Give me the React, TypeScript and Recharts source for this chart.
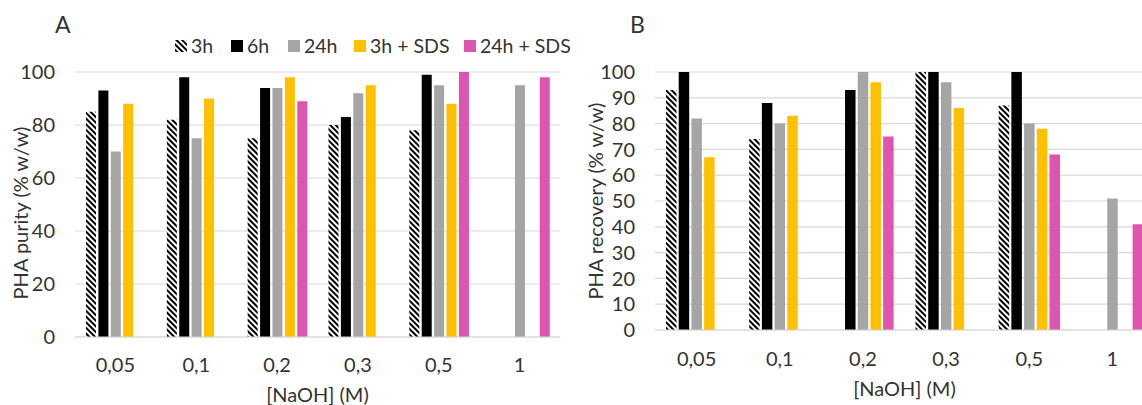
import { BarChart, Bar, XAxis, YAxis, CartesianGrid, Legend } from 'recharts';

const FONT = 'Lato, "Open Sans", sans-serif';
const TEXT = '#333333';
const GRID = '#D9D9D9';
const FS = 20;

const categories = ['0,05', '0,1', '0,2', '0,3', '0,5', '1'];

// Panel A - PHA purity (% w/w)
const purity3h = [85, 82, 75, 80, 78, null];
const purity6h = [93, 98, 94, 83, 99, null];
const purity24h = [70, 75, 94, 92, 95, 95];
const purity3hSds = [88, 90, 98, 95, 88, null];
const purity24hSds = [null, null, 89, null, 100, 98];
const purityTicks = [0, 20, 40, 60, 80, 100];

// Panel B - PHA recovery (% w/w)
const recovery3h = [93, 74, null, 100, 87, null];
const recovery6h = [100, 88, 93, 100, 100, null];
const recovery24h = [82, 80, 100, 96, 80, 51];
const recovery3hSds = [67, 83, 96, 86, 78, null];
const recovery24hSds = [null, null, 75, null, 68, 41];
const recoveryTicks = [0, 10, 20, 30, 40, 50, 60, 70, 80, 90, 100];

const series = [
  { key: 's3h', name: '3h', fill: 'url(#hatch3h)', legendWidth: 56 },
  { key: 's6h', name: '6h', fill: '#000000', legendWidth: 57 },
  { key: 's24h', name: '24h', fill: '#A5A5A5', legendWidth: 66 },
  { key: 's3hSds', name: '3h + SDS', fill: '#FFC000', legendWidth: 110 },
  { key: 's24hSds', name: '24h + SDS', fill: '#DE54B1', legendWidth: 110 },
];

function buildRows(cols: (number | null)[][]) {
  return categories.map((cat, i) => {
    const row: any = { cat };
    series.forEach((s, j) => {
      row[s.key] = cols[j][i];
    });
    return row;
  });
}

const purityData = buildRows([purity3h, purity6h, purity24h, purity3hSds, purity24hSds]);
const recoveryData = buildRows([recovery3h, recovery6h, recovery24h, recovery3hSds, recovery24hSds]);

function XTitle({ viewBox, value, dy }: any) {
  if (!viewBox) return null;
  const x = viewBox.x + viewBox.width / 2;
  return (
    <text x={x} y={viewBox.y + dy} textAnchor="middle" fontFamily={FONT} fontSize={FS} fill={TEXT}>
      {value}
    </text>
  );
}

function YTitle({ value, cx, cy }: any) {
  return (
    <text
      x={cx}
      y={cy}
      transform={`rotate(-90 ${cx} ${cy})`}
      textAnchor="middle"
      dominantBaseline="central"
      fontFamily={FONT}
      fontSize={FS}
      fill={TEXT}
    >
      {value}
    </text>
  );
}

function LegendRow() {
  return (
    <div style={{ display: 'flex', alignItems: 'center', fontFamily: FONT, fontSize: 19.5, color: TEXT, whiteSpace: 'nowrap' }}>
      {series.map((s) => (
        <div key={s.key} style={{ display: 'flex', alignItems: 'center', width: s.legendWidth }}>
          <svg width={12} height={12}>
            <rect width={12} height={12} fill={s.fill} />
          </svg>
          <span style={{ marginLeft: 4 }}>{s.name}</span>
        </div>
      ))}
    </div>
  );
}

const tickStyle = { fontFamily: FONT, fontSize: FS, fill: TEXT };

export default function App() {
  return (
    <div style={{ position: 'fixed', left: 0, top: 0, width: 1142, height: 405, overflow: 'hidden', background: '#fff' }}>
      <svg width={0} height={0} style={{ position: 'absolute' }}>
        <defs>
          <pattern id="hatch3h" width={4} height={4} patternUnits="userSpaceOnUse" patternTransform="rotate(-45)">
            <rect width={4} height={4} fill="#ffffff" />
            <rect width={2} height={4} fill="#000000" />
          </pattern>
        </defs>
      </svg>

      <div style={{ position: 'absolute', left: 0, top: 0 }}>
        <BarChart
          width={580}
          height={405}
          data={purityData}
          margin={{ top: 72, right: 20, bottom: 0, left: 0 }}
          barSize={10}
          barGap={2.4}
        >
          <CartesianGrid vertical={false} stroke={GRID} strokeWidth={1.2} />
          <XAxis
            dataKey="cat"
            height={68}
            tickLine={false}
            tickSize={0}
            tickMargin={21}
            axisLine={{ stroke: GRID, strokeWidth: 1.2 }}
            tick={tickStyle}
            label={<XTitle value="[NaOH] (M)" dy={65} />}
          />
          <YAxis
            width={75}
            domain={[0, 100]}
            ticks={purityTicks}
            interval={0}
            axisLine={false}
            tickLine={false}
            tickSize={0}
            tickMargin={20}
            tick={tickStyle}
            label={<YTitle value="PHA purity (% w/w)" cx={20} cy={213} />}
          />
          <Legend
            layout="horizontal"
            verticalAlign="middle"
            content={<LegendRow />}
            wrapperStyle={{ top: 34, left: 175, width: 'auto' }}
          />
          {series.map((s) => (
            <Bar key={s.key} dataKey={s.key} name={s.name} fill={s.fill} isAnimationActive={false} />
          ))}
        </BarChart>
      </div>

      <div style={{ position: 'absolute', left: 580, top: 0 }}>
        <BarChart
          width={600}
          height={405}
          data={recoveryData}
          margin={{ top: 72, right: 26, bottom: 0, left: 0 }}
          barSize={10.5}
          barGap={2.2}
        >
          <CartesianGrid vertical={false} stroke={GRID} strokeWidth={1.2} />
          <XAxis
            dataKey="cat"
            height={75}
            tickLine={false}
            tickSize={0}
            tickMargin={22}
            axisLine={{ stroke: GRID, strokeWidth: 1.2 }}
            tick={tickStyle}
            label={<XTitle value="[NaOH] (M)" dy={66} />}
          />
          <YAxis
            width={75}
            domain={[0, 100]}
            ticks={recoveryTicks}
            interval={0}
            axisLine={false}
            tickLine={false}
            tickSize={0}
            tickMargin={20}
            tick={tickStyle}
            label={<YTitle value="PHA recovery (% w/w)" cx={15} cy={201} />}
          />
          {series.map((s) => (
            <Bar key={s.key} dataKey={s.key} name={s.name} fill={s.fill} isAnimationActive={false} />
          ))}
        </BarChart>
      </div>

      <div style={{ position: 'absolute', left: 55, top: 10, fontFamily: FONT, fontSize: 23, color: TEXT, lineHeight: '28px' }}>A</div>
      <div style={{ position: 'absolute', left: 630, top: 10, fontFamily: FONT, fontSize: 23, color: TEXT, lineHeight: '28px' }}>B</div>
    </div>
  );
}
